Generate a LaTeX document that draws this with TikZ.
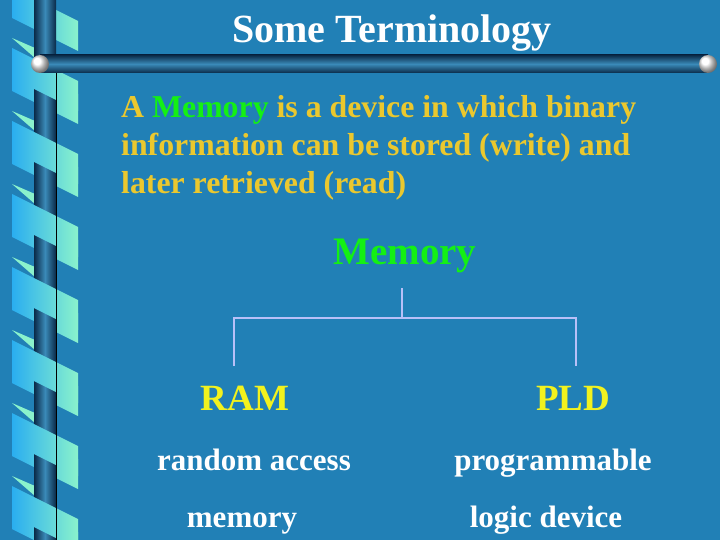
\documentclass[tikz,border=0pt]{standalone}
\usepackage{fontspec}
\setmainfont{Liberation Serif}
\definecolor{bg}{HTML}{2180B6}
\definecolor{rib1}{HTML}{2AAEF0}
\definecolor{rib2}{HTML}{8AF2CC}
\definecolor{rodd}{HTML}{0A2A48}
\definecolor{rodl}{HTML}{3A8AB8}
\definecolor{memg}{HTML}{14F014}
\definecolor{defy}{HTML}{EBC82E}
\definecolor{ramy}{HTML}{F2F21E}
\definecolor{ln}{HTML}{B8C0F8}
\tikzset{txt/.style={text=white,font=\bfseries\fontsize{31}{38}\selectfont,inner sep=0pt,anchor=base},
conn/.style={draw=ln,line width=1.2pt}}
\begin{document}
\begin{tikzpicture}[x=1pt,y=-1pt]
\useasboundingbox (0,0) rectangle (720,540);
\fill[bg] (0,0) rectangle (720,540);
\foreach \k in {0,...,7}{
  \pgfmathsetmacro{\y}{-12+73*\k}
  \fill[rib2] (12,\y+50) -- (35,\y+60) -- (35,\y+70) -- cycle;
  \shade[left color=rib1,right color=rib2] (12,\y) -- (78,\y+33) -- (78,\y+63) -- (12,\y+30) -- cycle;
}
\shade[left color=rodd,right color=rodd,middle color=rodl] (34,0) rectangle (56,540);
\foreach \k in {0,...,7}{
  \pgfmathsetmacro{\y}{-12+73*\k}
  \shade[left color=rib1,right color=rib2] (12,\y+60) -- (78,\y+93) -- (78,\y+123) -- (12,\y+90) -- cycle;
}
\draw[black,line width=0.8pt] (56,64) -- (56,540);
\shade[top color=rodd,bottom color=rodd,middle color=rodl] (40,55) rectangle (708,73);
\shade[ball color=white] (40,64) circle (9);
\shade[ball color=white] (708,64) circle (9);
\node[txt,font=\bfseries\fontsize{40}{44}\selectfont] (title) at (392,43) {Some Terminology};
\node[txt,text=defy,font=\bfseries\fontsize{31.8}{38}\selectfont,anchor=base west,align=left] (def) at (121,194) {A \textcolor{memg}{Memory} is a device in which binary\\information can be stored (write) and\\later retrieved (read)};
\node[txt,text=memg,font=\bfseries\fontsize{39}{44}\selectfont] (mem) at (405,264) {Memory};
\node[txt,text=ramy,font=\bfseries\fontsize{37}{44}\selectfont] (ram) at (245,410) {RAM};
\node[txt,text=ramy,font=\bfseries\fontsize{37}{44}\selectfont] (pld) at (573,410) {PLD};
\node[txt] (r1) at (254,470) {random access};
\node[txt] (r2) at (242,527) {memory};
\node[txt] (p1) at (553,470) {programmable};
\node[txt] (p2) at (546,527) {logic device};
\coordinate (top) at (402,288);
\coordinate (j) at (402,318);
\coordinate (jl) at (234,318);
\coordinate (jr) at (576,318);
\coordinate (el) at (234,366);
\coordinate (er) at (576,366);
\draw[conn] (top) -- (j);
\draw[conn] (el) -- (jl) -- (jr) -- (er);
\end{tikzpicture}
\end{document}
